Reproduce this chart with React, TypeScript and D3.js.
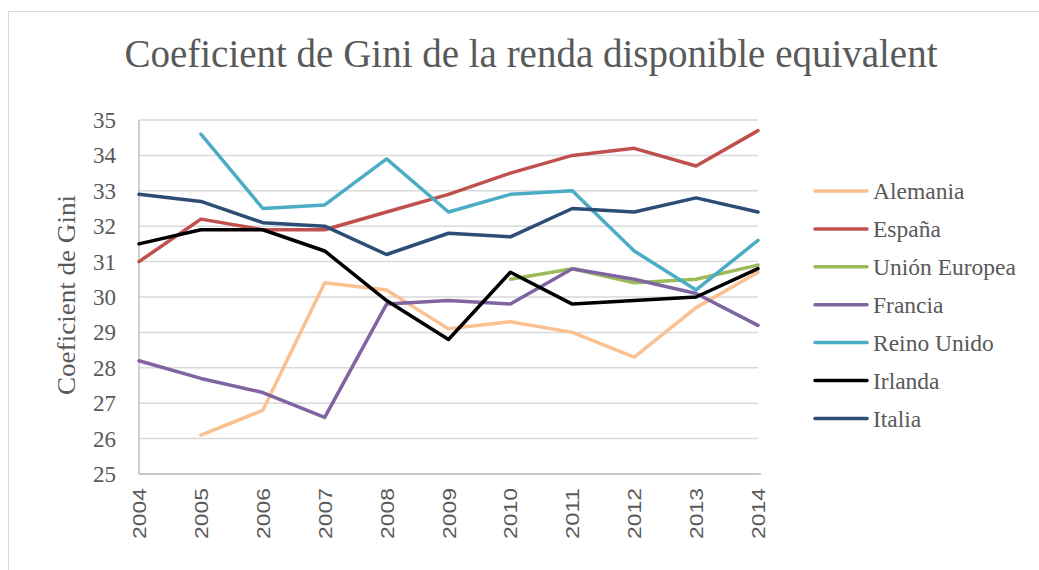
import React from "react";
import * as d3 from "d3";

const years = [2004, 2005, 2006, 2007, 2008, 2009, 2010, 2011, 2012, 2013, 2014];
const yTicks = [25, 26, 27, 28, 29, 30, 31, 32, 33, 34, 35];

const alemania = [null, 26.1, 26.8, 30.4, 30.2, 29.1, 29.3, 29.0, 28.3, 29.7, 30.7];
const espana = [31.0, 32.2, 31.9, 31.9, 32.4, 32.9, 33.5, 34.0, 34.2, 33.7, 34.7];
const unionEuropea = [null, null, null, null, null, null, 30.5, 30.8, 30.4, 30.5, 30.9];
const francia = [28.2, 27.7, 27.3, 26.6, 29.8, 29.9, 29.8, 30.8, 30.5, 30.1, 29.2];
const reinoUnido = [null, 34.6, 32.5, 32.6, 33.9, 32.4, 32.9, 33.0, 31.3, 30.2, 31.6];
const irlanda = [31.5, 31.9, 31.9, 31.3, 29.9, 28.8, 30.7, 29.8, 29.9, 30.0, 30.8];
const italia = [32.9, 32.7, 32.1, 32.0, 31.2, 31.8, 31.7, 32.5, 32.4, 32.8, 32.4];

const seriesNames = ["Alemania", "España", "Unión Europea", "Francia", "Reino Unido", "Irlanda", "Italia"];
const seriesValues = [alemania, espana, unionEuropea, francia, reinoUnido, irlanda, italia];
const seriesColors = ["#FAC090", "#C0504D", "#9BBB59", "#8064A2", "#4BACC6", "#000000", "#2C4D75"];

const W = 1039;
const H = 570;
const left = 139;
const right = 758;
const top = 120;
const bottom = 474;

export default function App() {
  const x = d3.scaleLinear().domain([2004, 2014]).range([left, right]);
  const y = d3.scaleLinear().domain([25, 35]).range([bottom, top]);
  const line = d3
    .line<number | null>()
    .defined((d) => d !== null)
    .x((_, i) => x(years[i]))
    .y((d) => y(d as number));

  const serif = "'Liberation Serif', 'DejaVu Serif', serif";
  const sans = "'Liberation Sans', Arial, sans-serif";
  const textColor = "#595959";

  return (
    <div style={{ position: "fixed", left: 0, top: 0 }}>
      <svg width={W} height={H} style={{ display: "block", background: "#fff" }}>
        <rect x={8.5} y={11.5} width={W + 20} height={H + 20} fill="#fff" stroke="#D9D9D9" strokeWidth={1} />
        <text
          x={531}
          y={67}
          textAnchor="middle"
          fontFamily={serif}
          fontSize={39}
          fill={textColor}
          textLength={813}
          lengthAdjust="spacingAndGlyphs"
        >
          Coeficient de Gini de la renda disponible equivalent
        </text>

        {yTicks.map((t) => (
          <line key={"g" + t} x1={left} x2={right} y1={y(t)} y2={y(t)} stroke="#D9D9D9" strokeWidth={1.5} />
        ))}
        <line x1={left} x2={left} y1={top} y2={bottom} stroke="#BFBFBF" strokeWidth={1.5} />
        <line x1={left} x2={right + 3} y1={bottom} y2={bottom} stroke="#BFBFBF" strokeWidth={1.5} />

        {yTicks.map((t) => (
          <text
            key={"t" + t}
            x={116}
            y={y(t)}
            dy="0.35em"
            textAnchor="end"
            fontFamily={serif}
            fontSize={23}
            fill={textColor}
          >
            {t}
          </text>
        ))}

        {years.map((yr) => (
          <text
            key={"x" + yr}
            transform={`translate(${x(yr) + 7},${488}) rotate(-90)`}
            textAnchor="end"
            fontFamily={sans}
            fontSize={19}
            fill={textColor}
            textLength={51}
            lengthAdjust="spacingAndGlyphs"
          >
            {yr}
          </text>
        ))}

        <text
          transform={`translate(${75},${295}) rotate(-90)`}
          textAnchor="middle"
          fontFamily={serif}
          fontSize={25}
          fill={textColor}
          textLength={200}
          lengthAdjust="spacingAndGlyphs"
        >
          Coeficient de Gini
        </text>

        {seriesValues.map((vals, i) => (
          <path
            key={"s" + i}
            d={line(vals) || ""}
            fill="none"
            stroke={seriesColors[i]}
            strokeWidth={3.5}
            strokeLinejoin="round"
            strokeLinecap="round"
          />
        ))}

        {seriesNames.map((name, i) => {
          const ly = 191 + i * 37.9;
          return (
            <g key={"l" + i}>
              <line x1={815} x2={867} y1={ly} y2={ly} stroke={seriesColors[i]} strokeWidth={3.5} strokeLinecap="round" />
              <text x={873} y={ly} dy="0.35em" fontFamily={serif} fontSize={23.5} fill={textColor}>
                {name}
              </text>
            </g>
          );
        })}
      </svg>
    </div>
  );
}
